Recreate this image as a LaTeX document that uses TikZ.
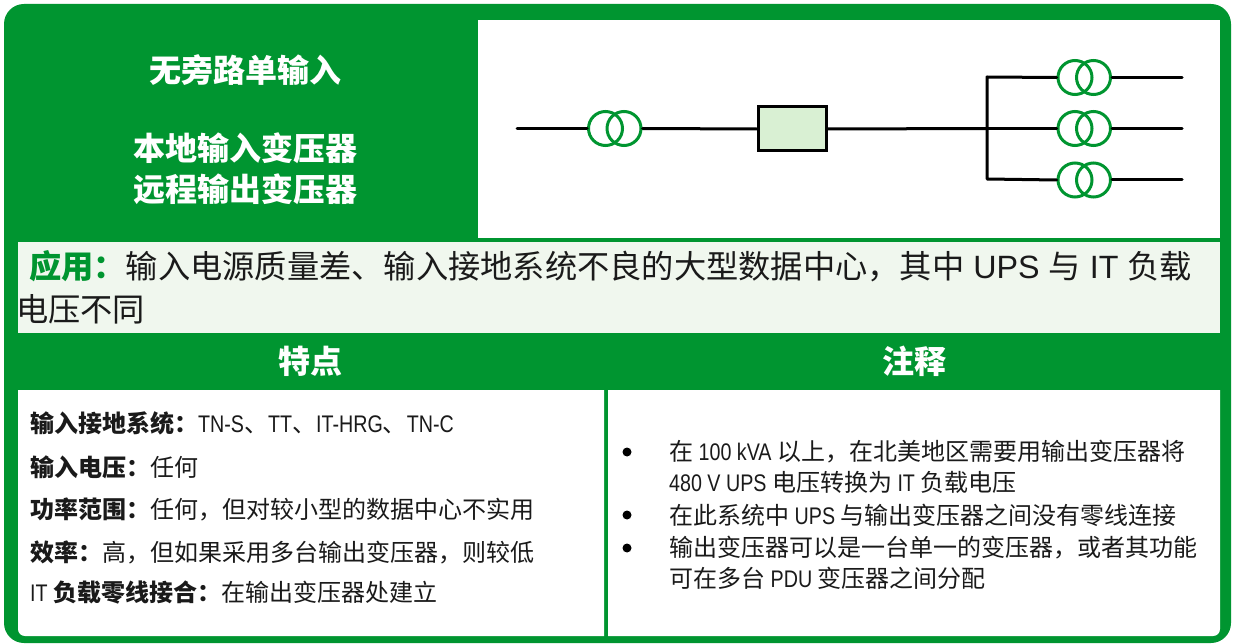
\documentclass[tikz,border=0pt]{standalone}
\usepackage{fontspec}
\setmainfont{Noto Sans CJK SC}
\newfontfamily\latn[FakeStretch=0.82]{Liberation Sans}
\newfontfamily\latw{Liberation Sans}
\newcommand{\nrw}[1]{{\latn #1}}
\newcommand{\wdl}[1]{{\latw #1}}
\definecolor{sgreen}{HTML}{009530}
\definecolor{palegreen}{HTML}{F0F7EE}
\definecolor{boxgreen}{HTML}{D9F0D3}
\definecolor{ink}{HTML}{1A1A1A}
\tikzset{
  x=1pt,y=-1pt,
  tr/.style={circle,draw=sgreen,line width=3pt,minimum size=34pt,inner sep=0pt},
  wire/.style={line width=3pt,draw=black,line cap=round,line join=round},
  upsbox/.style={rectangle,draw=black,fill=boxgreen,line width=3pt,minimum width=68pt,minimum height=44pt,inner sep=0pt},
  title/.style={text=white,font=\fontsize{32}{32}\selectfont\bfseries,inner sep=0pt,anchor=center},
  apptext/.style={text=ink,font=\fontsize{32.25}{32.25}\selectfont,inner sep=0pt,anchor=west},
  body/.style={text=ink,font=\fontsize{24}{24}\selectfont,inner sep=0pt,anchor=west},
  bul/.style={circle,fill=black,minimum size=9pt,inner sep=0pt},
}
\begin{document}
\begin{tikzpicture}
\useasboundingbox (0,0) rectangle (1234,644);
\fill[white] (0,0) rectangle (1234,644);
\fill[sgreen,rounded corners=20pt] (4,4) rectangle (1231,643);
\fill[white] (478,20) rectangle (1220,238);
\fill[palegreen] (18,242) rectangle (1220,333);
\fill[white] (18,390) -- (18,629) .. controls (18,633) and (21,636) .. (25,636) -- (604,636) -- (604,390) -- cycle;
\fill[white] (608,390) -- (608,636) -- (1213,636) .. controls (1217,636) and (1220,633) .. (1220,629) -- (1220,390) -- cycle;

\node[title] (t1) at (245,70) {无旁路单输入};
\node[title] (t2) at (245,148) {本地输入变压器};
\node[title] (t3) at (245,189) {远程输出变压器};

\coordinate (in) at (517,128.5);
\node[tr] (a1) at (605.5,128.5) {};
\node[tr] (a2) at (624,128.5) {};
\node[upsbox] (ups) at (792,129) {};
\coordinate (bus) at (987,128.5);
\coordinate (bt) at (987,77);
\coordinate (bb) at (987,179);
\node[tr] (b1) at (1075,77.5) {};
\node[tr] (b2) at (1093.5,77.5) {};
\node[tr] (c1) at (1075,128.5) {};
\node[tr] (c2) at (1093.5,128.5) {};
\node[tr] (d1) at (1075,180) {};
\node[tr] (d2) at (1093.5,180) {};
\coordinate (o1) at (1182,77.5);
\coordinate (o2) at (1182,128.5);
\coordinate (o3) at (1182,180);
\draw[wire] (in) -- (a1.west);
\draw[wire] (a2.east) -- (ups.west);
\draw[wire] (ups.east) -- (bus);
\draw[wire] (b1.west) -- (bt) -- (bb) -- (d1.west);
\draw[wire] (bus) -- (c1.west);
\draw[wire] (b2.east) -- (o1);
\draw[wire] (c2.east) -- (o2);
\draw[wire] (d2.east) -- (o3);

\node[apptext] (a) at (29,266) {\textcolor{sgreen}{\bfseries 应用：}输入电源质量差、输入接地系统不良的大型数据中心，其中\wdl{ UPS }与\wdl{ IT }负载};
\node[apptext] (a') at (16,309) {电压不同};

\node[title] (h1) at (310,361) {特点};
\node[title] (h2) at (914,361) {注释};

\node[body] (l1) at (30,423) {\textbf{输入接地系统：}\nrw{TN-S}、\nrw{TT}、\nrw{IT-HRG}、\nrw{TN-C}};
\node[body] (l2) at (30,467) {\textbf{输入电压：}任何};
\node[body] (l3) at (30,509) {\textbf{功率范围：}任何，但对较小型的数据中心不实用};
\node[body] (l4) at (30,552) {\textbf{效率：}高，但如果采用多台输出变压器，则较低};
\node[body] (l5) at (30,593) {\nrw{IT }\textbf{负载零线接合：}在输出变压器处建立};

\node[bul] (p1) at (627,452) {};
\node[bul] (p2) at (627,515) {};
\node[bul] (p3) at (627,548) {};
\node[body] (r1) at (669,452) {在\nrw{ 100 kVA }以上，在北美地区需要用输出变压器将};
\node[body] (r2) at (669,482) {\nrw{480 V UPS }电压转换为\nrw{ IT }负载电压};
\node[body] (r3) at (669,515) {在此系统中\nrw{ UPS }与输出变压器之间没有零线连接};
\node[body] (r4) at (669,548) {输出变压器可以是一台单一的变压器，或者其功能};
\node[body] (r5) at (669,578) {可在多台\nrw{ PDU }变压器之间分配};
\end{tikzpicture}
\end{document}
